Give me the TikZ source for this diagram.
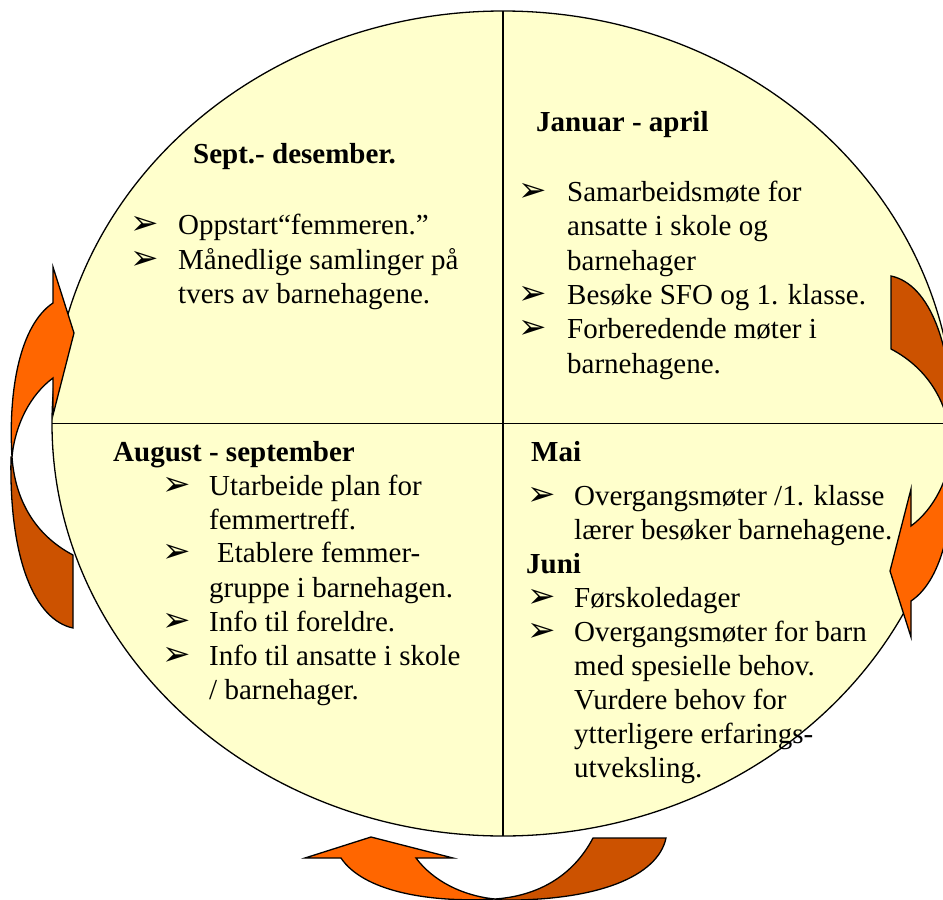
\documentclass[tikz,border=0pt]{standalone}
\usepackage{fontspec}
\setmainfont{Liberation Serif}
\newfontfamily\dingfont{DejaVu Sans}
\definecolor{circfill}{HTML}{FFFFCC}
\definecolor{lightor}{HTML}{FF6600}
\definecolor{darkor}{HTML}{CC5200}
\tikzset{
  txt/.style={anchor=base west, inner sep=0pt, font=\fontsize{29}{34}\selectfont},
  headtxt/.style={anchor=base west, inner sep=0pt, font=\fontsize{29}{34}\selectfont\bfseries},
  bul/.style={anchor=base west, inner sep=0pt, font=\dingfont\fontsize{34}{34}\selectfont},
  lightarrow/.style={fill=lightor, draw=black, line width=1.3pt, line join=miter},
  darkarrow/.style={fill=darkor, draw=black, line width=1.3pt, line join=miter},
  quadline/.style={draw=black, line width=1.2pt},
  circ/.style={fill=circfill, draw=black, line width=1.3pt}
}
\newcommand{\cyclarrow}[1]{%
  \begin{scope}[#1]
    \path[darkarrow] (11,457) .. controls (9,560) and (35,620) .. (73,628)
      -- (73,555) .. controls (35,535) and (15,500) .. (12,457) -- cycle;
    \path[lightarrow] (53,267) -- (74,333) -- (53,415) -- (53,378)
      .. controls (30,395) and (15,425) .. (12,457)
      .. controls (8,390) and (20,325) .. (53,303) -- cycle;
  \end{scope}}
\begin{document}
\begin{tikzpicture}[x=1pt,y=-1pt]
\useasboundingbox (0,0) rectangle (943,900);
\begin{scope}
\clip (0,0) rectangle (943,900);
% circle and quadrant lines
\path[circ] (503,423.5) ellipse [x radius=451pt, y radius=412.5pt];
\coordinate (vtop) at (503,11);
\coordinate (vbot) at (503,836);
\coordinate (hleft) at (52,423.5);
\coordinate (hright) at (954,423.5);
\draw[quadline] (vtop) -- (vbot);
\draw[quadline] (hleft) -- (hright);

% top-left quadrant
\node[headtxt] (tlh) at (193,163) {Sept.- desember.};
\node[bul] (tlb1) at (130,234) {➢};
\node[txt] (tl1) at (178,234) {Oppstart“femmeren.”};
\node[bul] (tlb2) at (130,269) {➢};
\node[txt] (tl2) at (178,269) {Månedlige samlinger på};
\node[txt] (tl3) at (178,303) {tvers av barnehagene.};

% top-right quadrant
\node[headtxt] (trh) at (536,131) {Januar - april};
\node[bul] (trb1) at (518,201) {➢};
\node[txt] (tr1) at (567,201) {Samarbeidsmøte for};
\node[txt] (tr2) at (567,235) {ansatte i skole og};
\node[txt] (tr3) at (567,270) {barnehager};
\node[bul] (trb2) at (518,304) {➢};
\node[txt] (tr4) at (567,304) {Besøke SFO og 1. klasse.};
\node[bul] (trb3) at (518,338) {➢};
\node[txt] (tr5) at (567,338) {Forberedende møter i};
\node[txt] (tr6) at (567,373) {barnehagene.};

% bottom-left quadrant
\node[headtxt] (blh) at (113,461) {August - september};
\node[bul] (blb1) at (162,495) {➢};
\node[txt] (bl1) at (209,495) {Utarbeide plan for};
\node[txt] (bl2) at (209,529) {femmertreff.};
\node[bul] (blb2) at (162,562) {➢};
\node[txt] (bl3) at (217,562) {Etablere femmer-};
\node[txt] (bl4) at (209,597) {gruppe i barnehagen.};
\node[bul] (blb3) at (162,631) {➢};
\node[txt] (bl5) at (209,631) {Info til foreldre.};
\node[bul] (blb4) at (162,665) {➢};
\node[txt] (bl6) at (209,665) {Info til ansatte i skole};
\node[txt] (bl7) at (209,699) {/ barnehager.};

% bottom-right quadrant
\node[headtxt] (brh1) at (531,461) {Mai};
\node[bul] (brb1) at (527,505) {➢};
\node[txt] (br1) at (574,505) {Overgangsmøter /1. klasse};
\node[txt] (br2) at (574,539) {lærer besøker barnehagene.};
\node[headtxt] (brh2) at (526,573) {Juni};
\node[bul] (brb2) at (527,607) {➢};
\node[txt] (br3) at (574,607) {Førskoledager};
\node[bul] (brb3) at (527,641) {➢};
\node[txt] (br4) at (574,641) {Overgangsmøter for barn};
\node[txt] (br5) at (574,675) {med spesielle behov.};
\node[txt] (br6) at (574,709) {Vurdere behov for};
\node[txt] (br7) at (574,743) {ytterligere erfarings-};
\node[txt] (br8) at (574,777) {utveksling.};

% cycle arrows
\cyclarrow{}
\cyclarrow{shift={(964,904)}, xscale=-1, yscale=-1}
\cyclarrow{shift={(38,911)}, rotate=90}
\end{scope}
\end{tikzpicture}
\end{document}
